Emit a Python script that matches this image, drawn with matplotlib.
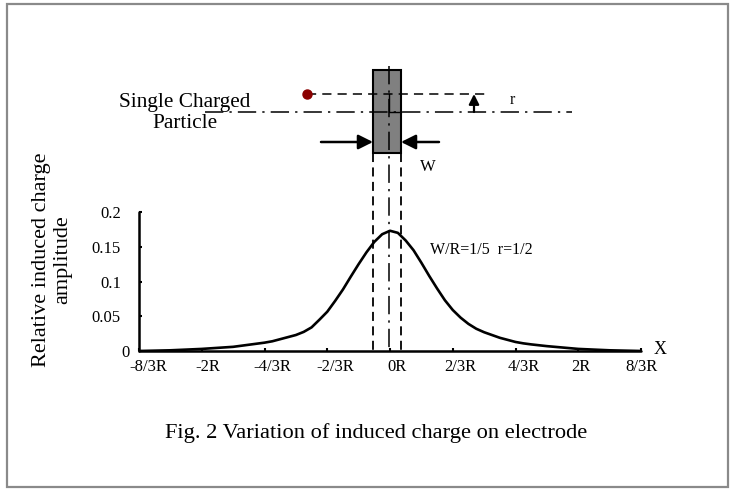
import matplotlib
matplotlib.use("Agg")
import matplotlib.pyplot as plt
import matplotlib.transforms as mtrans
from matplotlib.patches import Rectangle, FancyArrowPatch

plt.rcParams['font.family'] = ['Liberation Serif', 'DejaVu Serif']

# ---- data (x in units of R) ----
x_pos = [-8/3, -2.5, -7/3, -13/6, -2.0, -11/6, -5/3, -1.5, -17/12, -4/3, -1.25,
         -7/6, -13/12, -1.0, -11/12, -5/6, -0.75, -2/3, -7/12, -0.5, -5/12,
         -1/3, -0.25, -1/6, -1/12, 0.0, 1/12, 1/6, 0.25, 1/3, 5/12, 0.5, 7/12,
         2/3, 0.75, 5/6, 11/12, 1.0, 13/12, 7/6, 1.25, 4/3, 17/12, 1.5, 5/3,
         11/6, 2.0, 13/6, 7/3, 2.5, 8/3]
amplitude = [0.0000, 0.0005, 0.0010, 0.0020, 0.0030, 0.0045, 0.0060, 0.0090,
             0.0105, 0.0120, 0.0140, 0.0170, 0.0200, 0.0230, 0.0275, 0.0340,
             0.0450, 0.0565, 0.0720, 0.0885, 0.1070, 0.1250, 0.1420, 0.1570,
             0.1680, 0.1730, 0.1700, 0.1590, 0.1450, 0.1270, 0.1080, 0.0900,
             0.0730, 0.0590, 0.0480, 0.0390, 0.0320, 0.0270, 0.0230, 0.0190,
             0.0160, 0.0130, 0.0110, 0.0095, 0.0070, 0.0050, 0.0030, 0.0020,
             0.0010, 0.0005, 0.0000]
xtick_vals = [-8/3, -2.0, -4/3, -2/3, 0.0, 2/3, 4/3, 2.0, 8/3]
xtick_labels = ['-8/3R', '-2R', '-4/3R', '-2/3R', '0R', '2/3R', '4/3R', '2R', '8/3R']
ytick_vals = [0, 0.05, 0.1, 0.15, 0.2]
ytick_labels = ['0', '0.05', '0.1', '0.15', '0.2']

W, H = 735, 495
fig = plt.figure(figsize=(W/100, H/100), dpi=100)

# main plot axes (pixel box: x 139..641, y 212..351)
L, R_, T, B = 139, 641, 212, 351
ax = fig.add_axes([L/W, 1-B/H, (R_-L)/W, (B-T)/H])
ax.plot(x_pos, amplitude, color='black', lw=1.9, solid_capstyle='round',
        solid_joinstyle='round', zorder=3)
ax.set_xlim(-8/3, 8/3)
ax.set_ylim(0, 0.2)
for s in ['top', 'right']:
    ax.spines[s].set_visible(False)
for s in ['left', 'bottom']:
    ax.spines[s].set_linewidth(1.8)
    ax.spines[s].set_capstyle('round')
ax.set_xticks(xtick_vals)
ax.set_xticklabels(xtick_labels)
ax.set_yticks(ytick_vals)
ax.set_yticklabels(ytick_labels)
ax.tick_params(direction='in', length=2.5, width=1.5, labelsize=12)
ax.tick_params(axis='y', pad=13)
ax.tick_params(axis='x', pad=6)
ax.patch.set_alpha(0)

# small horizontal offsets of tick labels (pixels) as in the reference
x_label_shift = [9, 6, 8, 8, 7, 8, 8, 3, 1]
for lab, dx in zip(ax.get_xticklabels(), x_label_shift):
    lab.set_transform(lab.get_transform() +
                      mtrans.ScaledTranslation(dx/100, 0, fig.dpi_scale_trans))
y0lab = ax.get_yticklabels()[0]
y0lab.set_transform(y0lab.get_transform() +
                    mtrans.ScaledTranslation(9/100, 0, fig.dpi_scale_trans))

# overlay axes in pixel coordinates for schematic + annotations
ov = fig.add_axes([0, 0, 1, 1], zorder=5)
ov.set_xlim(0, W)
ov.set_ylim(H, 0)
ov.axis('off')
ov.patch.set_alpha(0)

# outer frame
ov.add_patch(Rectangle((7, 4), 721, 483, fill=False, ec='#8a8a8a', lw=1.6))

# electrode
ov.add_patch(Rectangle((373, 70), 28, 83, fc='#808080', ec='black', lw=1.5, zorder=2))
# centre dash-dot vertical
ov.plot([389, 389], [66, 352], color='black', lw=1.1, dashes=(12, 4, 1.5, 4), zorder=3)
# electrode edge dashed verticals
ov.plot([373, 373], [153, 352], color='black', lw=1.3, dashes=(5, 3), zorder=3)
ov.plot([401, 401], [153, 352], color='black', lw=1.3, dashes=(5, 3), zorder=3)
# horizontal dash-dot axis line
ov.plot([205, 572], [112, 112], color='black', lw=1.1, dashes=(12, 4, 1.5, 4), zorder=3)
# dashed particle path
ov.plot([307, 488], [94, 94], color='black', lw=1.1, dashes=(6, 4), zorder=3)
# small L marking
ov.plot([389, 389, 401], [94, 112, 112], color='black', lw=1.0, zorder=3)
# particle
ov.plot([307], [94], marker='o', ms=6.5, color='#8b0000', zorder=4)

# arrows
ov.add_patch(FancyArrowPatch((321, 142), (373, 142), arrowstyle='-|>', mutation_scale=22,
                             color='black', lw=1.8, shrinkA=0, shrinkB=0, zorder=4))
ov.add_patch(FancyArrowPatch((439, 142), (401, 142), arrowstyle='-|>', mutation_scale=22,
                             color='black', lw=1.8, shrinkA=0, shrinkB=0, zorder=4))
ov.add_patch(FancyArrowPatch((474, 112), (474, 94), arrowstyle='-|>', mutation_scale=15,
                             color='black', lw=1.6, shrinkA=0, shrinkB=0, zorder=4))

# texts
ov.text(185, 113, 'Single Charged\nParticle', ha='center', va='center', fontsize=15.3,
        linespacing=1.2)
ov.text(512, 100, 'r', ha='center', va='center', fontsize=11.5)
ov.text(428, 167, 'W', ha='center', va='center', fontsize=12)
ov.text(430, 250, 'W/R=1/5  r=1/2', ha='left', va='center', fontsize=11.5)
ov.text(660, 349, 'X', ha='center', va='center', fontsize=13)
ov.text(52, 260, 'Relative induced charge\namplitude', ha='center', va='center',
        rotation=90, fontsize=16, linespacing=1.2, multialignment='center')
ov.text(376, 433, 'Fig. 2 Variation of induced charge on electrode', ha='center',
        va='center', fontsize=16.1)

fig.savefig('out.png', dpi=100)
